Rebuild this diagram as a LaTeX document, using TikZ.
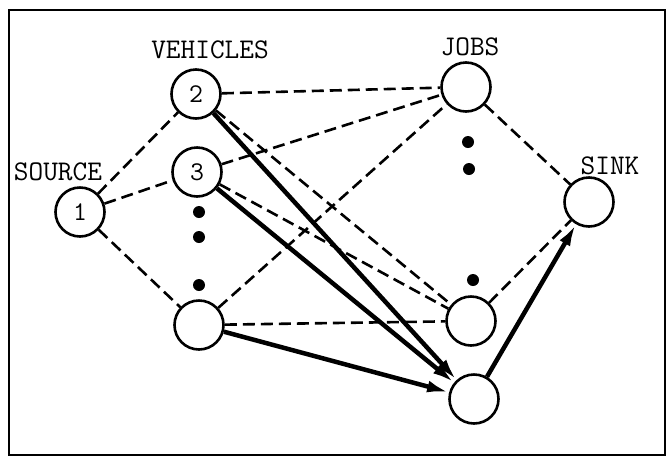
\documentclass[tikz,border=0pt]{standalone}
\usepackage{fontspec}
\usetikzlibrary{arrows.meta}
\definecolor{netcolor0000}{RGB}{255,255,255}
\definecolor{netcolor0001}{RGB}{0,0,0}
\begin{document}
\begin{tikzpicture}[yscale=-1
,nstyle0/.style={circle,draw=netcolor0001,fill=netcolor0000,line width=2.6pt,minimum size=49pt,inner sep=0pt,font=\ttfamily\fontsize{27pt}{27pt}\selectfont}
,nstyle1/.style={font=\ttfamily\fontsize{28.5pt}{28.5pt}\selectfont,color=netcolor0001}
,nstyle2/.style={circle,fill=netcolor0001,minimum size=12pt,inner sep=0pt}
,estyle0/.style={color=netcolor0001,line width=2.6pt,dash pattern=on 12pt off 6pt}
,estyle1/.style={color=netcolor0001,line width=4.5pt,-{Latex[length=22pt,width=12pt]}}
]
\useasboundingbox (0pt,0pt) rectangle (666pt,456pt);
\draw[color=netcolor0001,line width=2.5pt] (9pt,10pt) rectangle (665pt,455pt);
% nodes
\node[nstyle0] (src) at (80pt,212pt) {1};
\node[nstyle0] (veh2) at (196pt,94pt) {2};
\node[nstyle0] (veh3) at (197pt,172pt) {3};
\node[nstyle0] (veh4) at (199pt,325pt) {};
\node[nstyle0] (job1) at (466pt,87pt) {};
\node[nstyle0] (job2) at (471pt,321pt) {};
\node[nstyle0] (idle) at (474pt,399pt) {};
\node[nstyle0] (sink) at (589pt,202pt) {};
% labels
\node[nstyle1] (lsrc) at (58pt,172pt) {SOURCE};
\node[nstyle1] (lveh) at (210pt,50pt) {VEHICLES};
\node[nstyle1] (ljob) at (470pt,47pt) {JOBS};
\node[nstyle1] (lsink) at (610pt,166pt) {SINK};
% dots
\node[nstyle2] (d1) at (199pt,212pt) {};
\node[nstyle2] (d2) at (199pt,237pt) {};
\node[nstyle2] (d3) at (199pt,285pt) {};
\node[nstyle2] (d4) at (468pt,142pt) {};
\node[nstyle2] (d5) at (469pt,169pt) {};
\node[nstyle2] (d6) at (473pt,280pt) {};
% dashed arcs
\draw[estyle0] (src) -- (veh2);
\draw[estyle0] (src) -- (veh3);
\draw[estyle0] (src) -- (veh4);
\draw[estyle0] (veh2) -- (job1);
\draw[estyle0] (veh2) -- (job2);
\draw[estyle0] (veh3) -- (job1);
\draw[estyle0] (veh3) -- (job2);
\draw[estyle0] (veh4) -- (job1);
\draw[estyle0] (veh4) -- (job2);
\draw[estyle0] (job1) -- (sink);
\draw[estyle0] (job2) -- (sink);
% heavy arcs
\draw[estyle1] (veh2) -- (idle);
\draw[estyle1] (veh3) -- (idle);
\draw[estyle1] (veh4) -- (idle);
\draw[estyle1] (idle) -- (sink);
\end{tikzpicture}
\end{document}
